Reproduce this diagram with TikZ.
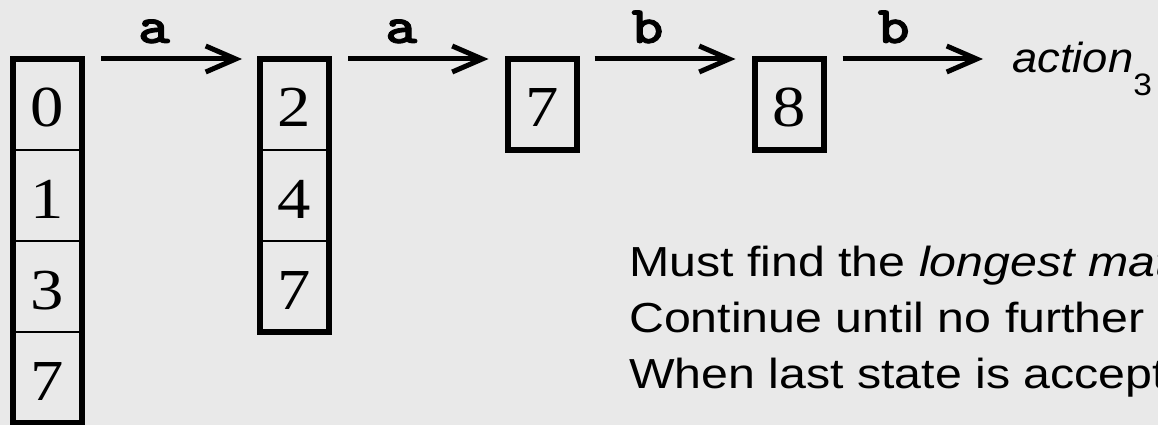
\documentclass[tikz,border=0pt]{standalone}
\usepackage{fontspec}
\usepackage{graphicx}
\setmainfont{Liberation Serif}
\setsansfont{Liberation Sans}
\setmonofont{Latin Modern Mono Light}[BoldFeatures={FakeBold=1.5}]
\usetikzlibrary{arrows.meta,positioning}
\definecolor{bg}{RGB}{233,233,233}
\newcommand{\wide}[1]{\scalebox{1.15}[1]{#1}}
\tikzset{
  cell/.style={draw, line width=2.5pt, minimum width=69pt, minimum height=91pt,
    inner sep=0pt, outer sep=0pt, text height=45pt, text depth=0pt,
    font=\fontsize{58}{62}\selectfont},
  frame/.style={line width=6pt},
  arr/.style={line width=5pt, -{Straight Barb[length=30pt,width=26pt]}},
  lab/.style={anchor=base, inner sep=0pt, yshift=16pt,
    font=\fontsize{53}{56}\selectfont\ttfamily\bfseries},
  body/.style={anchor=base west, inner sep=0pt, font=\fontsize{42}{56}\selectfont\sffamily},
}
\begin{document}
\begin{tikzpicture}[x=1pt,y=-1pt]
\useasboundingbox (0,0) rectangle (1158,425);
\fill[bg] (0,0) rectangle (1158,425);
\clip (0,0) rectangle (1158,425);
% set 1
\node[cell] (c0) at (47.5,104.5) {\wide{0}};
\node[cell, below=0pt of c0] (c1) {\wide{1}};
\node[cell, below=0pt of c1] (c2) {\wide{3}};
\node[cell, below=0pt of c2] (c3) {\wide{7}};
\draw[frame] (c0.north west) rectangle (c3.south east);
% set 2
\node[cell] (d0) at (294.5,104.5) {\wide{2}};
\node[cell, below=0pt of d0] (d1) {\wide{4}};
\node[cell, below=0pt of d1] (d2) {\wide{7}};
\draw[frame] (d0.north west) rectangle (d2.south east);
% set 3
\node[cell] (f0) at (542,104.5) {\wide{7}};
\draw[frame] (f0.north west) rectangle (f0.south east);
% set 4
\node[cell] (g0) at (789,104.5) {\wide{8}};
\draw[frame] (g0.north west) rectangle (g0.south east);
% action
\node[anchor=base west, inner sep=0pt, font=\fontsize{42}{48}\selectfont\sffamily] (act) at (1012,73)
  {\scalebox{1.08}[1]{\textit{action}\raisebox{-23pt}{\fontsize{31}{31}\selectfont 3}}};
% arrows
\draw[arr, shorten <=19pt, shorten >=18pt] (c0.north east) -- (d0.north west)
  node[lab, midway, xshift=-17pt] {\wide{a}};
\draw[arr, shorten <=19pt, shorten >=19pt] (d0.north east) -- (f0.north west)
  node[lab, midway, xshift=-17pt] {\wide{a}};
\draw[arr, shorten <=18pt, shorten >=19pt] (f0.north east) -- (g0.north west)
  node[lab, midway, xshift=-18pt] {\wide{b}};
\draw[arr, shorten <=19pt, shorten >=29pt] (g0.north east) -- (g0.north east -| act.west)
  node[lab, midway, xshift=-24pt] {\wide{b}};
% text
\node[body] (t1) at (629,276) {\wide{Must find the \textit{longest mat}}};
\node[body] (t2) at (629,332) {\wide{Continue until no further}};
\node[body] (t3) at (629,388) {\wide{When last state is accept}};
\end{tikzpicture}
\end{document}
